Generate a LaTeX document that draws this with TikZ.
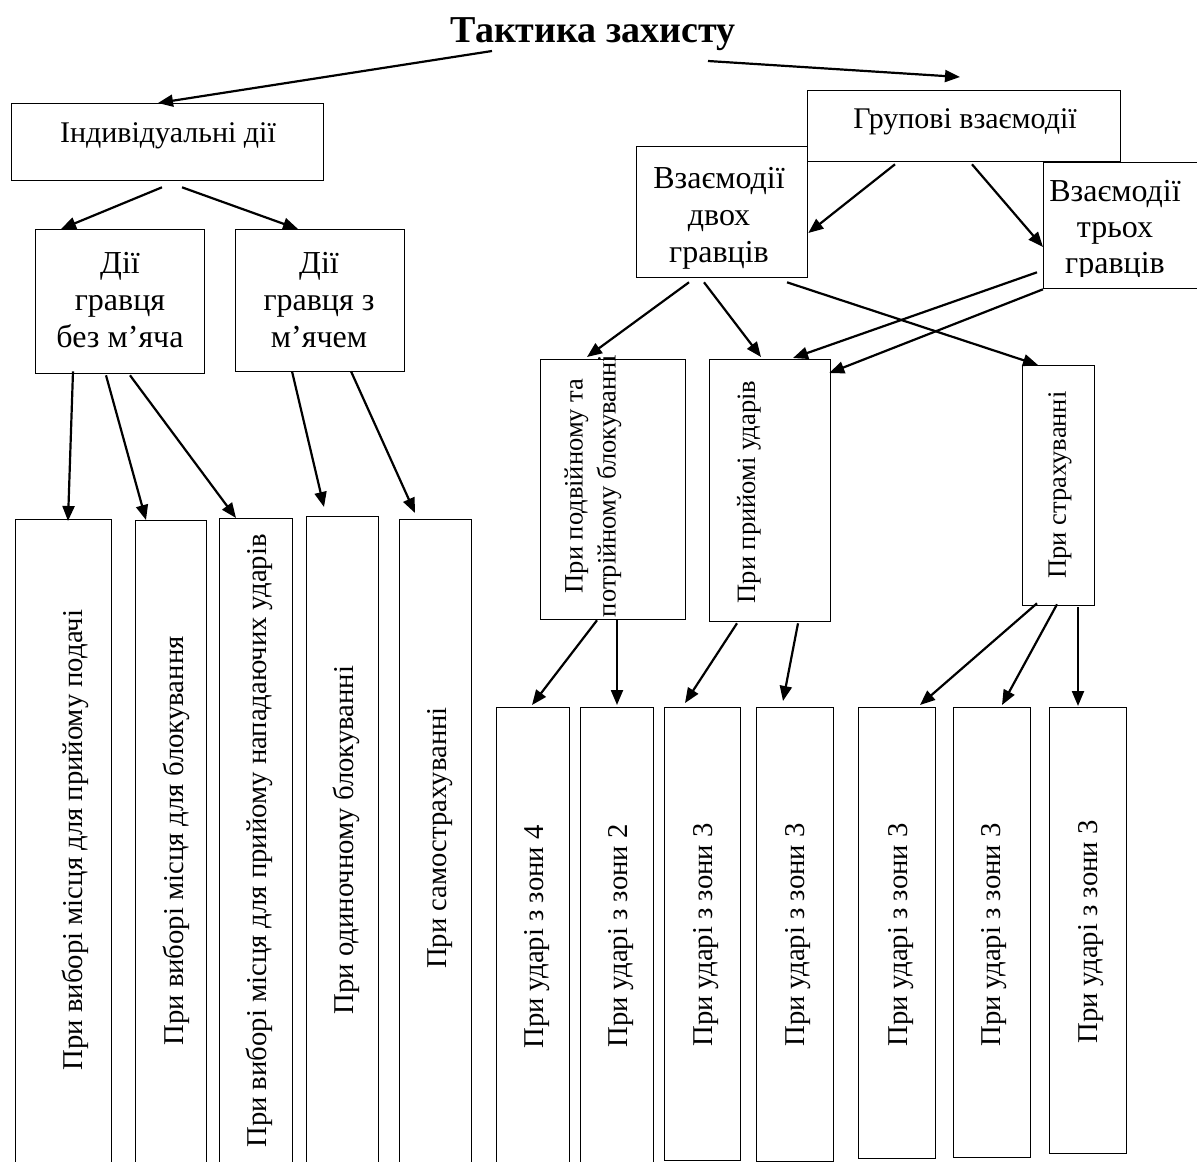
\documentclass[tikz,border=0pt]{standalone}
\usepackage{fontspec}
\setmainfont{Liberation Serif}
\usetikzlibrary{arrows.meta,calc}
\begin{document}
\begin{tikzpicture}[x=1pt,y=-1pt,
  box/.style={draw,line width=1.3pt,rectangle,inner sep=0pt,anchor=north west},
  arr/.style={line width=2.2pt,-{Triangle[length=15pt,width=12pt]}},
  big/.style={font=\fontsize{30}{37}\selectfont,align=center,inner sep=0pt},
  bigger/.style={font=\fontsize{32}{37}\selectfont,align=center,inner sep=0pt},
  vtxt/.style={rotate=90,font=\fontsize{28.7}{33}\selectfont,inner sep=0pt,text height=20pt,text depth=6pt},
  mtxt/.style={rotate=90,font=\fontsize{26.5}{33}\selectfont,inner sep=0pt,align=center}
]
\useasboundingbox[fill=white] (0,0) rectangle (1197,1162);

% title
\node[font=\fontsize{38}{44}\selectfont\bfseries,anchor=base,inner sep=0pt] (title) at (593,42) {Тактика захисту};

% boxes
\node[box,minimum width=312pt,minimum height=77pt] (ind) at (11,103) {};
\node[box,minimum width=169pt,minimum height=144pt] (dbez) at (35,229) {};
\node[box,minimum width=169pt,minimum height=142pt] (dz) at (235,229) {};
\node[box,minimum width=313pt,minimum height=71pt] (grp) at (807,90) {};
\node[box,minimum width=171pt,minimum height=131pt] (dvoh) at (636,146) {};
\node[box,minimum width=160pt,minimum height=126pt] (troh) at (1043,162) {};
\node[box,minimum width=145pt,minimum height=260pt] (pod) at (540,359) {};
\node[box,minimum width=121pt,minimum height=262pt] (pri) at (709,359) {};
\node[box,minimum width=72pt,minimum height=240pt] (str) at (1022,365) {};

\node[box,minimum width=96pt,minimum height=660pt] (b1) at (15,519) {};
\node[box,minimum width=71pt,minimum height=660pt] (b2) at (135,520) {};
\node[box,minimum width=73pt,minimum height=660pt] (b3) at (219,518) {};
\node[box,minimum width=72pt,minimum height=660pt] (b4) at (306,516) {};
\node[box,minimum width=72pt,minimum height=660pt] (b5) at (399,519) {};

\node[box,minimum width=73pt,minimum height=470pt] (r1) at (496,707) {};
\node[box,minimum width=73pt,minimum height=470pt] (r2) at (580,707) {};
\node[box,minimum width=76pt,minimum height=453pt] (r3) at (664,707) {};
\node[box,minimum width=77pt,minimum height=454pt] (r4) at (756,707) {};
\node[box,minimum width=77pt,minimum height=451pt] (r5) at (858,707) {};
\node[box,minimum width=77pt,minimum height=450pt] (r6) at (953,707) {};
\node[box,minimum width=77pt,minimum height=446pt] (r7) at (1049,707) {};

% texts
\node[big,anchor=base] (indT) at (168,142) {Індивідуальні дії};
\node[big,anchor=base] (grpT) at (965,128) {Групові взаємодії};
\node[bigger] (dbezT) at (120,300) {Дії\\гравця\\без м’яча};
\node[bigger] (dzT) at (319,300) {Дії\\гравця з\\м’ячем};
\node[bigger] (dvohT) at (719,218) {Взаємодії\\двох\\гравців};
\begin{scope}
\clip (1043,162) rectangle (1197,276);
\node[bigger,font=\fontsize{32}{36}\selectfont] (trohT) at (1115,230) {Взаємодії\\трьох\\гравців};
\end{scope}
\node[mtxt] (podT) at (593,486) {При подвійному та\\потрійному блокуванні};
\node[mtxt] (priT) at (749,492) {При прийомі ударів};
\node[mtxt] (strT) at (1060,485) {При страхуванні};

\node[vtxt] (b1T) at (75,840) {При виборі місця для прийому подачі};
\node[vtxt] (b2T) at (176,841) {При виборі місця для блокування};
\node[vtxt] (b3T) at (259.5,841) {При виборі місця для прийому нападаючих ударів};
\node[vtxt] (b4T) at (346,840) {При одиночному блокуванні};
\node[vtxt] (b5T) at (439.5,838) {При самострахуванні};

\node[vtxt] (r1T) at (536,937) {При ударі з зони 4};
\node[vtxt] (r2T) at (620.5,936) {При ударі з зони 2};
\node[vtxt] (r3T) at (705,935) {При ударі з зони 3};
\node[vtxt] (r4T) at (797,935) {При ударі з зони 3};
\node[vtxt] (r5T) at (900,935) {При ударі з зони 3};
\node[vtxt] (r6T) at (993.5,935) {При ударі з зони 3};
\node[vtxt] (r7T) at (1090,932) {При ударі з зони 3};

% arrows
\draw[arr] ($(title.base)+(-101,9)$) -- ($(ind.north west)+(147,0)$);
\draw[arr] ($(title.base)+(115,19)$) -- ($(grp.north west)+(153,-13)$);

\draw[arr] ($(ind.south west)+(151,6)$) -- ($(dbez.north west)+(26,0)$);
\draw[arr] ($(ind.south west)+(171,6)$) -- ($(dz.north west)+(63,0)$);

\draw[arr] ($(dbez.south west)+(38,-3)$) -- ($(b1.north west)+(53,2)$);
\draw[arr] ($(dbez.south west)+(71,1)$) -- ($(b2.north west)+(11,0)$);
\draw[arr] ($(dbez.south west)+(95,1)$) -- ($(b3.north west)+(17,0)$);
\draw[arr] ($(dz.south west)+(57,-1)$) -- ($(b4.north west)+(18,-9)$);
\draw[arr] ($(dz.south west)+(116,-1)$) -- ($(b5.north west)+(16,-6)$);

\draw[arr] ($(grp.south west)+(88,2)$) -- ($(dvoh.north east)+(0,87)$);
\draw[arr] ($(grp.south west)+(165,2)$) -- ($(troh.north west)+(0,85)$);

\draw[arr] ($(dvoh.south west)+(53,4)$) -- ($(pod.north west)+(47,-2)$);
\draw[arr] ($(dvoh.south west)+(68,4)$) -- ($(pri.north west)+(52,-2)$);
\draw[arr] ($(dvoh.south west)+(151,4)$) -- ($(str.north west)+(16,0)$);

\draw[arr] ($(troh.south west)+(-6,-17)$) -- ($(pri.north west)+(84,-1)$);
\draw[arr] (troh.south west) -- ($(pri.north east)+(-2,14)$);

\draw[arr] ($(pod.south west)+(57,0)$) -- ($(r1.north west)+(36,-2)$);
\draw[arr] ($(pod.south west)+(77,0)$) -- ($(r2.north west)+(37,-2)$);
\draw[arr] ($(pri.south west)+(28,1)$) -- ($(r3.north west)+(21,-4)$);
\draw[arr] ($(pri.south west)+(89,1)$) -- ($(r4.north west)+(27,-6)$);
\draw[arr] ($(str.south west)+(15,-3)$) -- ($(r5.north west)+(62,-2)$);
\draw[arr] ($(str.south west)+(35,-2)$) -- ($(r6.north west)+(49,-2)$);
\draw[arr] ($(str.south west)+(56,1)$) -- ($(r7.north west)+(29,-1)$);
\end{tikzpicture}
\end{document}
